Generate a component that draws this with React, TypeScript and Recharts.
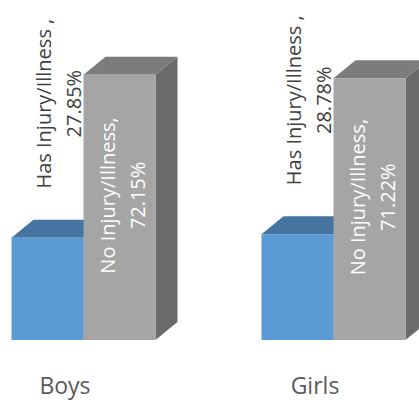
import React from "react";
import { BarChart, Bar, XAxis, YAxis, LabelList } from "recharts";

const categories = ["Boys", "Girls"];
const hasInjury = [27.85, 28.78];
const noInjury = [72.15, 71.22];
const hasName = "Has Injury/Illness ,";
const noName = "No Injury/Illness,";

const data = categories.map((c, i) => ({ name: c, has: hasInjury[i], no: noInjury[i] }));

const DX = 22;
const DY = 18;

const make3D = (front: string, top: string, side: string) => (props: any) => {
  const { x, y, width, height } = props;
  if (width == null || height == null) return null;
  const b = y + height;
  return (
    <g>
      <polygon
        points={`${x + width},${y} ${x + width + DX},${y - DY} ${x + width + DX},${b - DY} ${x + width},${b}`}
        fill={side}
      />
      <polygon
        points={`${x},${y} ${x + DX},${y - DY} ${x + width + DX},${y - DY} ${x + width},${y}`}
        fill={top}
      />
      <rect x={x} y={y} width={width} height={height} fill={front} />
    </g>
  );
};

const blueShape = make3D("#5B9BD5", "#44749F", "#3E6C95");
const grayShape = make3D("#A5A5A5", "#7C7C7C", "#6A6A6A");

const makeLabel = (name: string, color: string, mode: "above" | "inside") => (props: any) => {
  const { x, y, width, height, value } = props;
  const cx = mode === "above" ? x + width / 2 + 11 : x + width / 2 + 3;
  const cy = mode === "above" ? y - 134 : y + height / 2 - 12;
  return (
    <text
      transform={`rotate(-90, ${cx}, ${cy})`}
      textAnchor="middle"
      fill={color}
      fontSize={20}
      fontFamily="'Open Sans', sans-serif"
    >
      <tspan x={cx} y={cy - 15} dominantBaseline="central">{name}</tspan>
      <tspan x={cx} y={cy + 15} dominantBaseline="central">{`${value}%`}</tspan>
    </text>
  );
};

const CatTick = (props: any) => {
  const { x, y, payload } = props;
  return (
    <text
      x={x - 18}
      y={y + 46}
      textAnchor="middle"
      fill="#595959"
      fontSize={23}
      fontFamily="'Open Sans', sans-serif"
    >
      {payload.value}
    </text>
  );
};

export default function App() {
  return (
    <div
      style={{
        position: "absolute",
        left: 0,
        top: 0,
        width: 419,
        height: 402,
        overflow: "hidden",
        background: "#ffffff",
      }}
    >
      <div style={{ marginLeft: -42 }}>
        <BarChart
          width={500}
          height={402}
          data={data}
          margin={{ top: 46, right: 0, bottom: 0, left: 0 }}
          barCategoryGap="21.4%"
          barGap={0}
        >
          <XAxis
            dataKey="name"
            axisLine={false}
            tickLine={false}
            height={62}
            tick={<CatTick />}
            interval={0}
          />
          <YAxis hide domain={[0, 80]} />
          <Bar dataKey="has" shape={blueShape} isAnimationActive={false}>
            <LabelList dataKey="has" content={makeLabel(hasName, "#404040", "above")} />
          </Bar>
          <Bar dataKey="no" shape={grayShape} isAnimationActive={false}>
            <LabelList dataKey="no" content={makeLabel(noName, "#FFFFFF", "inside")} />
          </Bar>
        </BarChart>
      </div>
    </div>
  );
}
